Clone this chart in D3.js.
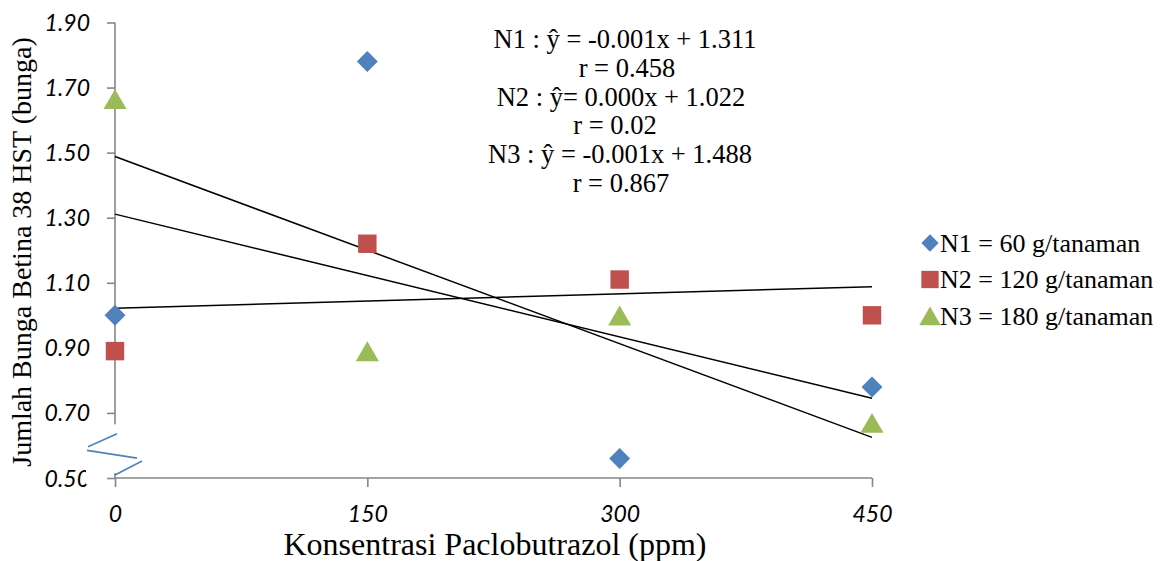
<!DOCTYPE html>
<html>
<head>
<meta charset="utf-8">
<script src="https://cdn.jsdelivr.net/npm/d3@7"></script>
<style>
  body { margin: 0; background: #fff; }
  .tick-label { font-family: Lato, "Open Sans", sans-serif; font-style: italic; font-size: 23px; fill: #000; }
  .serif { font-family: "Liberation Serif", "Times New Roman", serif; fill: #000; }
</style>
</head>
<body>
<div class="plot"></div>
<script>
// data
var doses = [0, 150, 300, 450];
var n1 = [1.00, 1.78, 0.56, 0.78];
var n2 = [0.89, 1.22, 1.11, 1.00];
var n3 = [1.665, 0.89, 1.00, 0.67];
var yTicks = [0.50, 0.70, 0.90, 1.10, 1.30, 1.50, 1.70, 1.90];
var legendLabels = ["N1 = 60 g/tanaman", "N2 = 120 g/tanaman", "N3 = 180 g/tanaman"];
var colors = ["#4F81BD", "#C0504D", "#9BBB59"];
var shapes = ["diamond", "square", "triangle"];
// trend line values at x = 0 and x = 450
var trendN1 = [1.311, 0.745];
var trendN2 = [1.022, 1.088];
var trendN3 = [1.488, 0.625];
var equations = [
  "N1 : \u0177 = -0.001x + 1.311",
  "r = 0.458",
  "N2 : \u0177= 0.000x + 1.022",
  "r = 0.02",
  "N3 : \u0177 = -0.001x + 1.488",
  "r = 0.867"
];

var width = 1170, height = 561;

var svg = d3.select(".plot")
  .append("svg")
  .attr("width", width)
  .attr("height", height);

var x = d3.scaleLinear().domain([0, 450]).range([115, 872]);
var y = d3.scaleLinear().domain([0.5, 1.9]).range([478, 22.5]);

var axisColor = "#868686";

// y axis
var yAxis = svg.append("g")
  .attr("transform", "translate(" + x(0) + ",0)")
  .call(d3.axisLeft(y).tickValues(yTicks).tickSize(8).tickFormat(d3.format(".2f")));
yAxis.select(".domain").attr("stroke", axisColor).attr("stroke-width", 1.6)
  .attr("d", "M0," + y(1.9) + "V" + y(0.5));
yAxis.selectAll(".tick line").attr("stroke", axisColor).attr("stroke-width", 1.6);
yAxis.selectAll(".tick text").attr("class", "tick-label").attr("x", -25).attr("dy", "0.35em");

// x axis
var xAxis = svg.append("g")
  .attr("transform", "translate(0," + y(0.5) + ")")
  .call(d3.axisBottom(x).tickValues(doses).tickSize(9).tickFormat(d3.format("d")));
xAxis.select(".domain").attr("stroke", axisColor).attr("stroke-width", 1.6)
  .attr("d", "M" + x(0) + ",0H" + x(450));
xAxis.selectAll(".tick line").attr("stroke", axisColor).attr("stroke-width", 1.6);
xAxis.selectAll(".tick text").attr("class", "tick-label").attr("y", 36).attr("dy", "0.35em");

// axis break mark
svg.append("rect")
  .attr("x", x(0) - 4).attr("y", y(0.665))
  .attr("width", 9).attr("height", y(0.515) - y(0.665))
  .attr("fill", "#fff");
svg.append("rect")
  .attr("x", x(0) - 29).attr("y", y(0.56))
  .attr("width", 7).attr("height", 26)
  .attr("fill", "#fff");
var brk = [
  [[x(0) + 2, y(0.636)], [x(0) - 27, y(0.596)]],
  [[x(0) - 28, y(0.585)], [x(0) + 22, y(0.561)]],
  [[x(0) + 27, y(0.552)], [x(0), y(0.509)]]
];
svg.selectAll(".brk")
  .data(brk)
  .enter().append("line")
  .attr("class", "brk")
  .attr("x1", function (d) { return d[0][0]; })
  .attr("y1", function (d) { return d[0][1]; })
  .attr("x2", function (d) { return d[1][0]; })
  .attr("y2", function (d) { return d[1][1]; })
  .attr("stroke", "#4F81BD")
  .attr("stroke-width", 1.6);

// trend lines
var trends = [trendN1, trendN2, trendN3];
svg.selectAll(".trend")
  .data(trends)
  .enter().append("line")
  .attr("class", "trend")
  .attr("x1", x(0))
  .attr("y1", function (d) { return y(d[0]); })
  .attr("x2", x(450))
  .attr("y2", function (d) { return y(d[1]); })
  .attr("stroke", "#000")
  .attr("stroke-width", 1.5);

// markers (triangle shifted so its box is centred on the value, like Excel)
function symbolPath(shape) {
  if (shape == "diamond") return d3.symbol().type(d3.symbolDiamond2).size(280)();
  if (shape == "square") return d3.symbol().type(d3.symbolSquare).size(340)();
  return d3.symbol().type(d3.symbolTriangle).size(230)();
}
var shift = [0, 0, 3.5];

var series = [n1, n2, n3];
series.forEach(function (vals, i) {
  svg.selectAll(".m" + i)
    .data(vals)
    .enter().append("path")
    .attr("class", "m" + i)
    .attr("d", symbolPath(shapes[i]))
    .attr("transform", function (d, j) {
      return "translate(" + x(doses[j]) + "," + (y(d) + shift[i]) + ")";
    })
    .attr("fill", colors[i]);
});

// equations
var eqX = [625, 627, 621, 615, 620, 621];
svg.selectAll(".eq")
  .data(equations)
  .enter().append("text")
  .attr("class", "eq serif")
  .attr("x", function (d, i) { return eqX[i]; })
  .attr("y", function (d, i) { return 48 + i * 28.8; })
  .style("text-anchor", "middle")
  .style("font-size", "26.5px")
  .text(function (d) { return d; });

// legend
var legend = svg.selectAll(".legend")
  .data(legendLabels)
  .enter().append("g")
  .attr("class", "legend")
  .attr("transform", function (d, i) { return "translate(930," + (243 + i * 36.5) + ")"; });
legend.append("path")
  .attr("d", function (d, i) {
    if (i == 0) return d3.symbol().type(d3.symbolDiamond2).size(190)();
    if (i == 1) return d3.symbol().type(d3.symbolSquare).size(300)();
    return d3.symbol().type(d3.symbolTriangle).size(200)();
  })
  .attr("transform", function (d, i) { return i == 2 ? "translate(0,3)" : null; })
  .attr("fill", function (d, i) { return colors[i]; });
legend.append("text")
  .attr("class", "serif")
  .attr("x", 10)
  .attr("dy", "0.33em")
  .style("font-size", "26px")
  .text(function (d) { return d; });

// axis titles
svg.append("text")
  .attr("class", "serif")
  .attr("x", 495)
  .attr("y", 555)
  .style("text-anchor", "middle")
  .style("font-size", "32px")
  .text("Konsentrasi Paclobutrazol (ppm)");

svg.append("text")
  .attr("class", "serif")
  .attr("transform", "translate(31,252) rotate(-90)")
  .style("text-anchor", "middle")
  .style("font-size", "28px")
  .text("Jumlah Bunga Betina 38 HST (bunga)");
</script>
</body>
</html>
